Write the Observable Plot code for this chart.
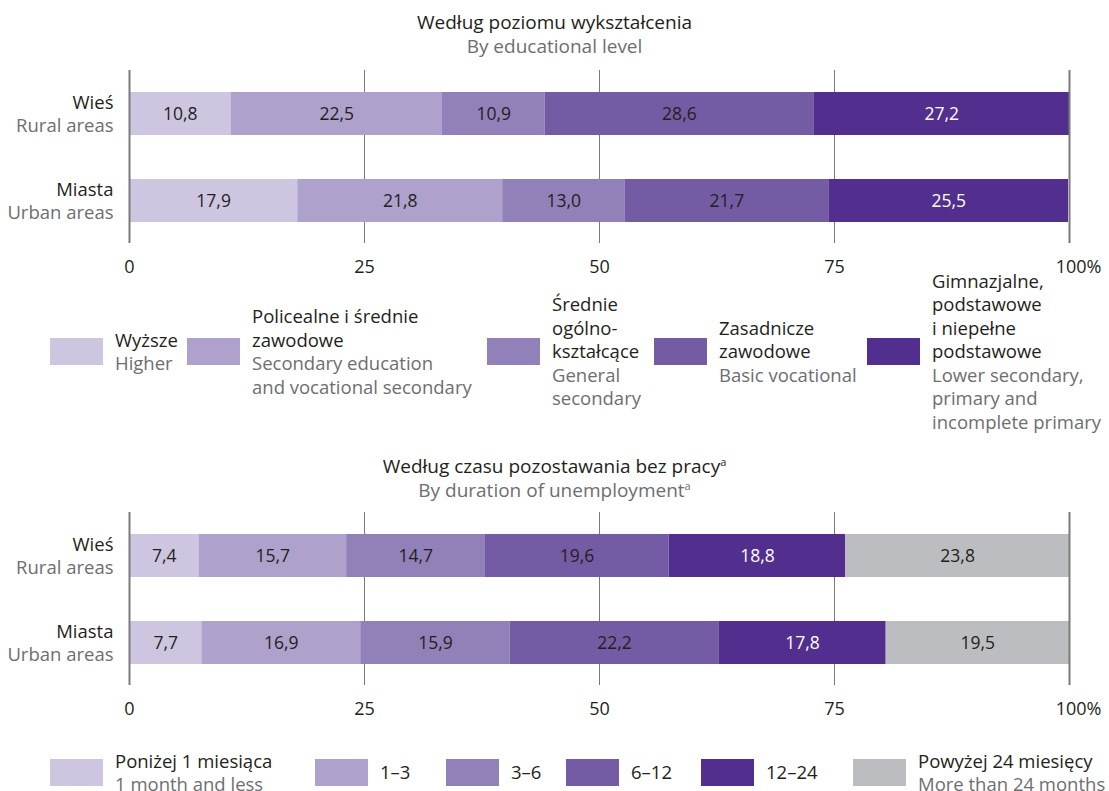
<!DOCTYPE html>
<html>
<head>
<meta charset="utf-8">
<script src="https://cdn.jsdelivr.net/npm/d3@7"></script>
<script src="https://cdn.jsdelivr.net/npm/@observablehq/plot@0.6"></script>
<style>
  body { margin: 0; background: #fff; font-family: "Open Sans", sans-serif; color: #231f20; }
  #root { position: relative; width: 1109px; height: 791px; overflow: hidden; }
  .title { position: absolute; left: 0; width: 1109px; text-align: center; font-size: 19px; line-height: 24px; }
  .title .en, .en { color: #6d6e71; }
  .chart { position: absolute; left: 0; }
  .legend { position: absolute; left: 0; width: 1109px; }
  .item { position: absolute; top: 0; height: 100%; display: flex; align-items: center; font-size: 18.5px; line-height: 23.5px; white-space: nowrap; }
  .sw { width: 53px; height: 27px; margin-right: 12px; flex: none; }
  sup { font-size: 11px; vertical-align: 7px; line-height: 0; }
</style>
</head>
<body>
<div id="root">
  <div class="title" style="top:10px">Według poziomu wykształcenia<br><span class="en">By educational level</span></div>
  <div class="chart" id="c1" style="top:60px"></div>
  <div class="legend" id="l1" style="top:276px;height:150px"></div>
  <div class="title" style="top:454px">Według czasu pozostawania bez pracy<sup>a</sup><br><span class="en">By duration of unemployment<sup>a</sup></span></div>
  <div class="chart" id="c2" style="top:502px"></div>
  <div class="legend" id="l2" style="top:750px;height:44px"></div>
</div>
<script>
// ---- data ----
const rows = ["Wieś", "Miasta"];
const rowsEn = ["Rural areas", "Urban areas"];

const eduCats = ["Wyższe", "Policealne i średnie zawodowe", "Średnie ogólnokształcące", "Zasadnicze zawodowe", "Gimnazjalne, podstawowe i niepełne podstawowe"];
const eduLabelsPl = [["Wyższe"], ["Policealne i średnie", "zawodowe"], ["Średnie", "ogólno-", "kształcące"], ["Zasadnicze", "zawodowe"], ["Gimnazjalne,", "podstawowe", "i niepełne", "podstawowe"]];
const eduLabelsEn = [["Higher"], ["Secondary education", "and vocational secondary"], ["General", "secondary"], ["Basic vocational"], ["Lower secondary,", "primary and", "incomplete primary"]];
const eduRural = [10.8, 22.5, 10.9, 28.6, 27.2];
const eduUrban = [17.9, 21.8, 13.0, 21.7, 25.5];

const durCats = ["Poniżej 1 miesiąca", "1–3", "3–6", "6–12", "12–24", "Powyżej 24 miesięcy"];
const durLabelsEn = ["1 month and less", "", "", "", "", "More than 24 months"];
const durRural = [7.4, 15.7, 14.7, 19.6, 18.8, 23.8];
const durUrban = [7.7, 16.9, 15.9, 22.2, 17.8, 19.5];

const eduColors = ["#cec6e0", "#aea1cb", "#9280b8", "#745ca4", "#522f8e"];
const durColors = ["#cec6e0", "#aea1cb", "#9280b8", "#745ca4", "#522f8e", "#bcbdc0"];
const darkCats = ["Gimnazjalne, podstawowe i niepełne podstawowe", "12–24"];

const xTicks = [0, 25, 50, 75, 100];

function table(cats, rural, urban) {
  const out = [];
  cats.forEach((c, i) => out.push({row: rows[0], cat: c, value: rural[i]}));
  cats.forEach((c, i) => out.push({row: rows[1], cat: c, value: urban[i]}));
  return out;
}

function chart(data, cats, colors) {
  const colorOf = new Map(cats.map((c, i) => [c, colors[i]]));
  const fmt = v => v.toFixed(1).replace(".", ",");
  return Plot.plot({
    width: 1109,
    height: 225,
    marginLeft: 129,
    marginRight: 40,
    marginTop: 10,
    marginBottom: 42,
    style: {fontFamily: "'Open Sans', sans-serif", background: "#fff", overflow: "visible"},
    x: {domain: [0, 100], axis: null, label: null},
    y: {domain: rows, paddingInner: 0.506, paddingOuter: 0.247, axis: null, label: null},
    marks: [
      Plot.ruleX(xTicks.slice(1, -1), {stroke: "#7a7a7a", strokeWidth: 1}),
      Plot.barX(data, Plot.stackX({x: "value", y: "row", fill: d => colorOf.get(d.cat)})),
      Plot.ruleX([xTicks[0], xTicks[xTicks.length - 1]], {stroke: "#7a7a7a", strokeWidth: 2}),
      Plot.text(data, Plot.stackX({x: "value", y: "row", text: d => fmt(d.value),
        fill: d => darkCats.includes(d.cat) ? "#ffffff" : "#231f20", fontSize: 17.5})),
      Plot.text(rows, {y: d => d, frameAnchor: "left", text: d => d, textAnchor: "end", dx: -16, dy: -11, fontSize: 18.5, fill: "#231f20"}),
      Plot.text(rows, {y: d => d, frameAnchor: "left", text: d => rowsEn[rows.indexOf(d)], textAnchor: "end", dx: -16, dy: 12, fontSize: 18.5, fill: "#6d6e71"}),
      Plot.axisX({ticks: xTicks.slice(0, -1), label: null, tickSize: 0, tickPadding: 17, fontSize: 18, fill: "#231f20", tickFormat: d => String(d)}),
      Plot.axisX({ticks: xTicks.slice(-1), label: null, tickSize: 0, tickPadding: 17, fontSize: 18, fill: "#231f20", dx: 9, tickFormat: d => d + "%"})
    ]
  });
}

document.getElementById("c1").appendChild(chart(table(eduCats, eduRural, eduUrban), eduCats, eduColors));
document.getElementById("c2").appendChild(chart(table(durCats, durRural, durUrban), durCats, durColors));

// ---- legends ----
function legend(el, cats, colors, plLines, enLines, lefts) {
  cats.forEach((c, i) => {
    const it = document.createElement("div");
    it.className = "item";
    it.style.left = lefts[i] + "px";
    const sw = document.createElement("div");
    sw.className = "sw";
    sw.style.background = colors[i];
    it.appendChild(sw);
    const tx = document.createElement("div");
    tx.innerHTML = plLines[i].join("<br>") + (enLines[i].length ? "<br><span class='en'>" + enLines[i].join("<br>") + "</span>" : "");
    it.appendChild(tx);
    el.appendChild(it);
  });
}
legend(document.getElementById("l1"), eduCats, eduColors, eduLabelsPl, eduLabelsEn, [50, 187, 487, 654, 867]);
legend(document.getElementById("l2"), durCats, durColors,
  durCats.map(c => [c]), durLabelsEn.map(e => e ? [e] : []), [50, 315, 446, 566, 701, 853]);
</script>
</body>
</html>
